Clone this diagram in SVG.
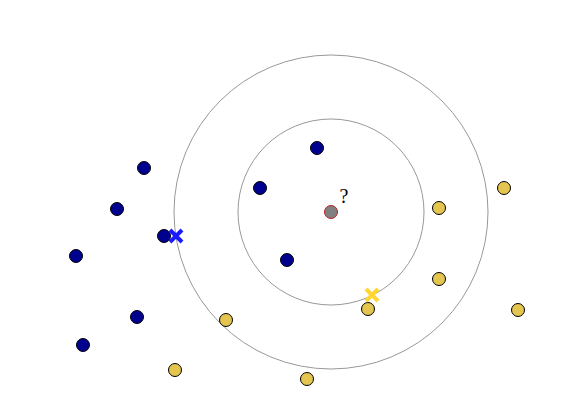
<svg xmlns="http://www.w3.org/2000/svg" width="585" height="405" viewBox="0 0 585 405">
<style>
.ring{fill:none;stroke:#999;stroke-width:1}
.b{fill:#00008f;stroke:#000;stroke-width:1}
.y{fill:#e3c54f;stroke:#000;stroke-width:1}
.xb{stroke:#1a1aff;stroke-width:4;fill:none}
.xy{stroke:#ffd633;stroke-width:4;fill:none}
</style>
<rect width="585" height="405" fill="#fff"/>
<g id="rings">
<circle class="ring" cx="331" cy="212" r="157"/>
<circle class="ring" cx="331" cy="212" r="93"/>
</g>
<g id="blue">
<circle class="b" cx="144" cy="168" r="6.5"/>
<circle class="b" cx="117" cy="209" r="6.5"/>
<circle class="b" cx="164" cy="236" r="6.5"/>
<circle class="b" cx="76" cy="256" r="6.5"/>
<circle class="b" cx="137" cy="317" r="6.5"/>
<circle class="b" cx="83" cy="345" r="6.5"/>
<circle class="b" cx="317" cy="148" r="6.5"/>
<circle class="b" cx="260" cy="188" r="6.5"/>
<circle class="b" cx="287" cy="260" r="6.5"/>
</g>
<g id="yellow">
<circle class="y" cx="504" cy="188" r="6.5"/>
<circle class="y" cx="439" cy="208" r="6.5"/>
<circle class="y" cx="439" cy="279" r="6.5"/>
<circle class="y" cx="518" cy="310" r="6.5"/>
<circle class="y" cx="368" cy="309" r="6.5"/>
<circle class="y" cx="226" cy="320" r="6.5"/>
<circle class="y" cx="175" cy="370" r="6.5"/>
<circle class="y" cx="307" cy="379" r="6.5"/>
</g>
<g id="crosses">
<path class="xb" d="M170 230L182 242M182 230L170 242"/>
<path class="xy" d="M366 289L378 301M378 289L366 301"/>
</g>
<g id="query">
<circle cx="331" cy="212" r="6.5" fill="#808080" stroke="#b22222" stroke-width="1"/>
<text x="344" y="203" font-family="Liberation Serif, serif" font-size="20" text-anchor="middle">?</text>
</g>
</svg>
